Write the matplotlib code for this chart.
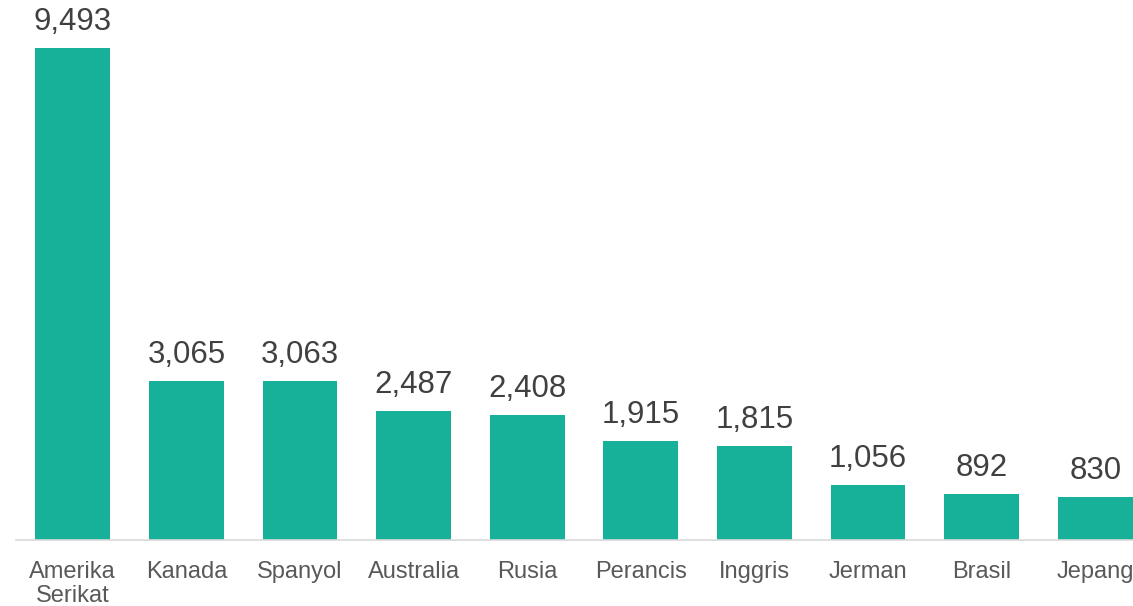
import numpy as np
import matplotlib
matplotlib.use("Agg")
import matplotlib.pyplot as plt

countries = ["Amerika\nSerikat", "Kanada", "Spanyol", "Australia", "Rusia",
             "Perancis", "Inggris", "Jerman", "Brasil", "Jepang"]
values = [9493, 3065, 3063, 2487, 2408, 1915, 1815, 1056, 892, 830]

BAR = "#17b098"; VAL = "#404040"; CAT = "#595959"; AXIS = "#d9d9d9"
plt.rcParams["font.family"] = ["Liberation Sans", "DejaVu Sans"]

W, H = 1133, 606
fig = plt.figure(figsize=(W / 100, H / 100), dpi=100)
ax = fig.add_axes([16 / W, 66 / H, 1136 / W, 540 / H])

x = np.arange(len(values))
bars = ax.bar(x, values, width=0.66, color=BAR)
for b, v in zip(bars, values):
    ax.annotate(f"{v:,}", (b.get_x() + b.get_width() / 2, v), xytext=(0, 8),
                textcoords="offset points", ha="center", va="bottom",
                fontsize=22.5, color=VAL)

ax.set_xlim(-0.5, len(values) - 0.5)
ax.set_ylim(0, 540 / 0.0518)
ax.set_xticks(x)
ax.set_xticklabels(countries, fontsize=17, color=CAT, linespacing=1.15)
ax.tick_params(axis="x", length=0, pad=15)
ax.set_yticks([])
for s in ["top", "right", "left"]:
    ax.spines[s].set_visible(False)
ax.spines["bottom"].set_color(AXIS)
ax.spines["bottom"].set_linewidth(1.2)

fig.savefig("out.png", dpi=100)
